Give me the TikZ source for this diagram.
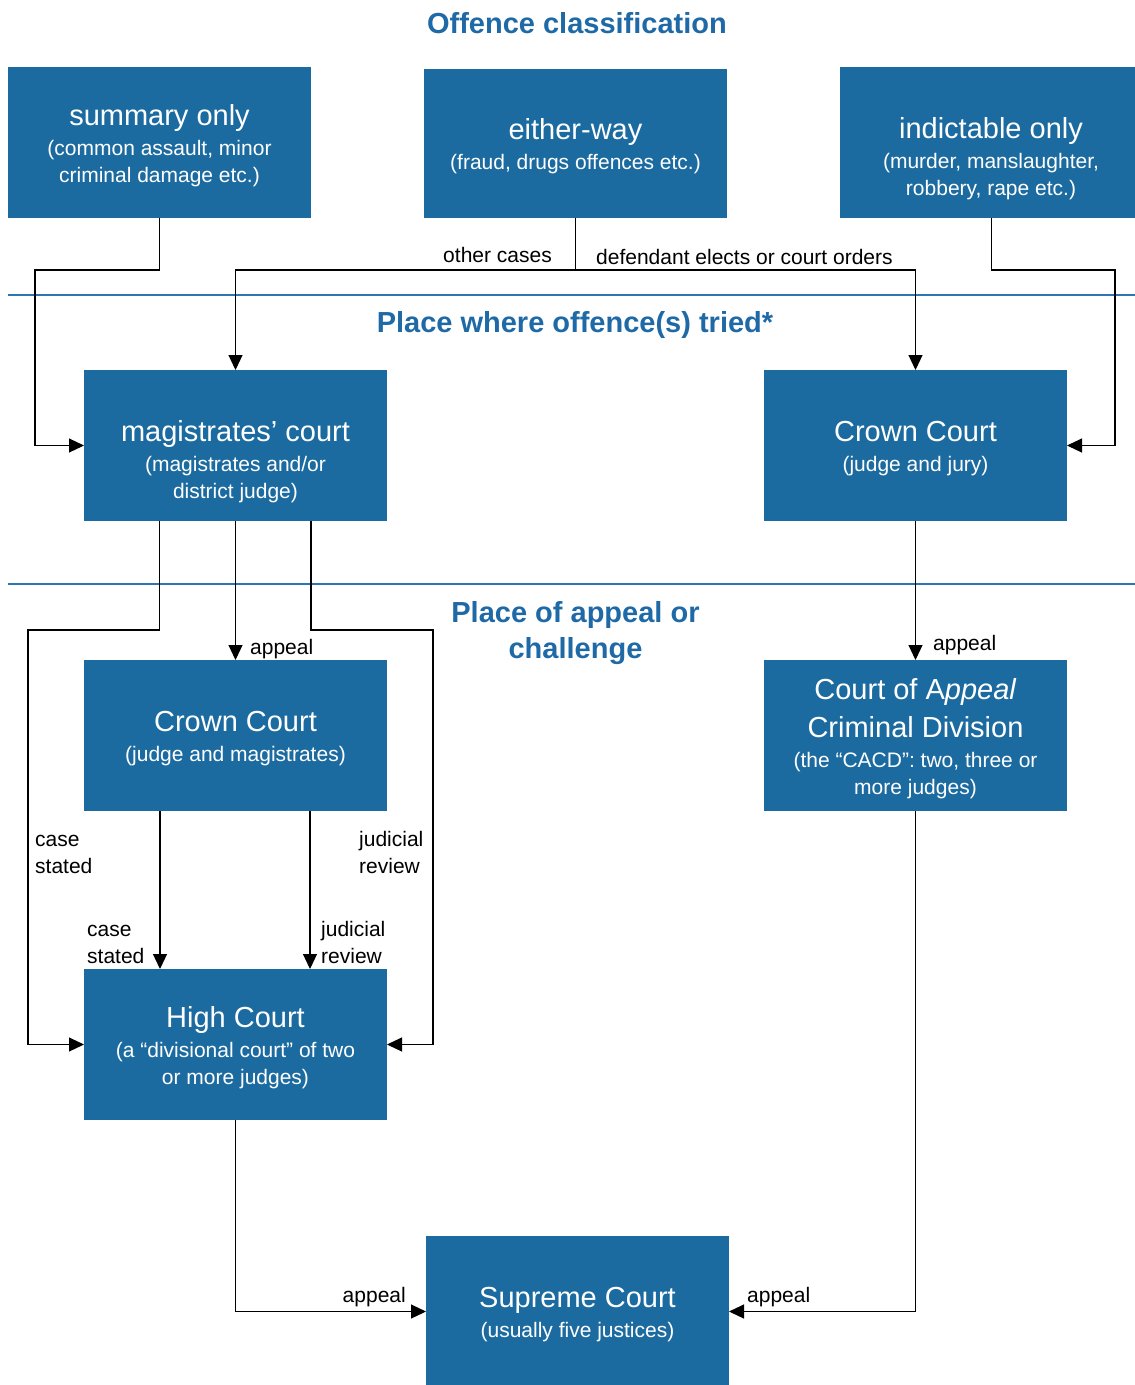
\documentclass[tikz,border=0pt]{standalone}
\usepackage{fontspec}
\setmainfont{Liberation Sans}
\usetikzlibrary{arrows.meta}
\definecolor{boxblue}{RGB}{28,107,160}
\definecolor{headblue}{RGB}{31,106,166}
\definecolor{ruleblue}{RGB}{46,117,182}
\newcommand\boxtitle[1]{{\fontsize{29}{27}\selectfont #1}}
\begin{document}
\begin{tikzpicture}[x=1pt,y=-1pt,
  box/.style={fill=boxblue,draw=none,minimum width=303pt,minimum height=151pt,inner sep=0pt,outer sep=0pt},
  boxtext/.style={text=white,align=center,inner sep=0pt,anchor=north,font=\fontsize{21}{27}\selectfont},
  heading/.style={text=headblue,font=\bfseries\fontsize{29}{36.5}\selectfont,align=center,inner sep=0pt},
  lbl/.style={font=\fontsize{21}{27}\selectfont,inner sep=0pt,align=left},
  conn/.style={draw=black,line width=1.1pt},
  arr/.style={conn,-{Triangle[length=15pt,width=14pt]}},
  rule/.style={draw=ruleblue,line width=1.2pt}
]
\useasboundingbox (0,0) rectangle (1135,1385);
% rules
\draw[rule] (8,295) -- (1135,295);
\draw[rule] (8,584) -- (1135,584);
% headings
\node[heading,anchor=base] (h1) at (577,33) {Offence classification};
\node[heading,anchor=base] (h2) at (575,332) {Place where offence(s) tried*};
\node[heading,anchor=north] (h3) at (575.5,601) {Place of appeal or\\ challenge};
% boxes
\node[box] (so) at (159.5,142.5) {};
\node[box,minimum height=149pt] (ew) at (575.5,143.5) {};
\node[box] (io) at (991.5,142.5) {};
\node[box] (mc) at (235.5,445.5) {};
\node[box] (cc1) at (915.5,445.5) {};
\node[box] (cc2) at (235.5,735.5) {};
\node[box] (coa) at (915.5,735.5) {};
\node[box] (hc) at (235.5,1044.5) {};
\node[box] (sc) at (577.5,1311.5) {};
% box texts
\node[boxtext] (so-t) at (159.5,104.5) {\boxtitle{summary only}\\[3pt] (common assault, minor\\ criminal damage etc.)};
\node[boxtext] (ew-t) at (575.5,118.5) {\boxtitle{either-way}\\[3pt] (fraud, drugs offences etc.)};
\node[boxtext] (io-t) at (991,117.5) {\boxtitle{indictable only}\\[3pt] (murder, manslaughter,\\ robbery, rape etc.)};
\node[boxtext] (mc-t) at (235.5,420) {\boxtitle{magistrates’ court}\\[3pt] (magistrates and/or\\ district judge)};
\node[boxtext] (cc1-t) at (915.5,421) {\boxtitle{Crown Court}\\[3pt] (judge and jury)};
\node[boxtext] (cc2-t) at (235.5,711) {\boxtitle{Crown Court}\\[3pt] (judge and magistrates)};
\node[boxtext] (coa-t) at (915.5,678) {\boxtitle{Court of A\textit{ppeal}}\\[10pt] \boxtitle{Criminal Division}\\[3pt] (the “CACD”: two, three or\\ more judges)};
\node[boxtext] (hc-t) at (235.5,1006.5) {\boxtitle{High Court}\\[3pt] (a “divisional court” of two\\ or more judges)};
\node[boxtext] (sc-t) at (577.5,1287) {\boxtitle{Supreme Court}\\[3pt] (usually five justices)};
% connectors
\coordinate (k1) at (35,270);
\draw[arr] (so.south) |- (k1) |- (mc.west);
\coordinate (k2) at (575.5,270);
\draw[conn] (ew.south) -- (k2);
\draw[arr] (k2) -| (mc.north);
\draw[arr] (k2) -| (cc1.north);
\coordinate (k3) at (1115,270);
\draw[arr] (io.south) |- (k3) |- (cc1.east);
\coordinate (k4) at (28,630);
\draw[arr] ([xshift=-76pt]mc.south) |- (k4) |- (hc.west);
\draw[arr] (mc.south) -- (cc2.north);
\coordinate (k5) at (433,630);
\draw[arr] ([xshift=75.5pt]mc.south) |- (k5) |- (hc.east);
\draw[arr] ([xshift=-75.5pt]cc2.south) -- ([xshift=-75.5pt]hc.north);
\draw[arr] ([xshift=74.5pt]cc2.south) -- ([xshift=74.5pt]hc.north);
\draw[arr] (cc1.south) -- (coa.north);
\draw[arr] (hc.south) |- (sc.west);
\draw[arr] (coa.south) |- (sc.east);
% labels
\node[lbl,anchor=base east] (l-other) at (552,262) {other cases};
\node[lbl,anchor=base west] (l-def) at (596,264) {defendant elects or court orders};
\node[lbl,anchor=base west] (l-app1) at (250,654) {appeal};
\node[lbl,anchor=base west] (l-app2) at (933,650) {appeal};
\node[lbl,anchor=north west] (l-cs1) at (35,835) {case\\stated};
\node[lbl,anchor=north west] (l-jr1) at (359,831) {judicial\\review};
\node[lbl,anchor=north west] (l-cs2) at (87,925) {case\\stated};
\node[lbl,anchor=north west] (l-jr2) at (321,921) {judicial\\review};
\node[lbl,anchor=base east] (l-app3) at (406,1302) {appeal};
\node[lbl,anchor=base west] (l-app4) at (747,1302) {appeal};
\end{tikzpicture}
\end{document}
